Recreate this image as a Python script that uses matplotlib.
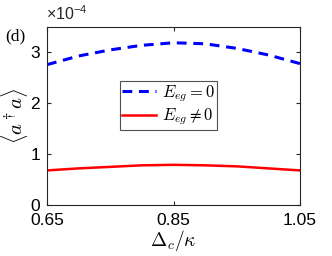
import matplotlib
matplotlib.use('Agg')
import matplotlib.pyplot as plt
import numpy as np

plt.rcParams['font.family'] = ['Liberation Sans', 'DejaVu Sans']
plt.rcParams['mathtext.fontset'] = 'cm'

# data (units of 1e-4)
delta = [0.65, 0.70, 0.75, 0.80, 0.85, 0.90, 0.95, 1.00, 1.05]
n_e0 = [2.76, 2.93, 3.05, 3.14, 3.19, 3.17, 3.08, 2.95, 2.78]
n_ne0 = [0.68, 0.72, 0.75, 0.78, 0.79, 0.78, 0.76, 0.72, 0.68]
xticks = [0.65, 0.85, 1.05]
yticks = [0, 1, 2, 3]

fig = plt.figure(figsize=(3.32, 2.56), dpi=100)
ax = fig.add_axes([47/332, 1-205/256, 253/332, 178/256])

ax.plot(delta, n_e0, '--', color='#0000ff', lw=2.2, dashes=(3.2, 2.2), label=r'$E_{eg}=0$')
ax.plot(delta, n_ne0, '-', color='#ff0000', lw=1.8, label=r'$E_{eg}\neq0$')

ax.set_xlim(0.65, 1.05)
ax.set_ylim(0, 3.5)
ax.set_xticks(xticks)
ax.set_xticklabels(['0.65', '0.85', '1.05'])
ax.set_yticks(yticks)
ax.tick_params(direction='in', top=True, right=True, labelsize=12.5, length=3,
               color='#262626')
ax.tick_params(axis='x', pad=6)
ax.tick_params(axis='y', pad=5)
for s in ax.spines.values():
    s.set_color('#262626')
    s.set_linewidth(0.8)

ax.set_xlabel(r'$\Delta_c/\kappa$', fontsize=14, labelpad=0)
ax.set_ylabel(r'$\langle a^\dagger a\rangle$', fontsize=15, labelpad=0)
fig.text(46/332, 1-23/256, r'$\mathregular{\times10^{-4}}$', fontsize=11.5,
         va='bottom', ha='left', color='#262626')
fig.text(5/332, 1-40/256, '(d)', fontsize=12.5, family='Liberation Serif')

leg = ax.legend(loc='center', bbox_to_anchor=(0.48, 0.56), fontsize=12,
                frameon=True, fancybox=False, edgecolor='#262626',
                handlelength=2.0, borderpad=0.15, labelspacing=0.15,
                handletextpad=0.35, borderaxespad=0)
leg.get_frame().set_linewidth(0.8)

fig.savefig('out.png', dpi=100)
